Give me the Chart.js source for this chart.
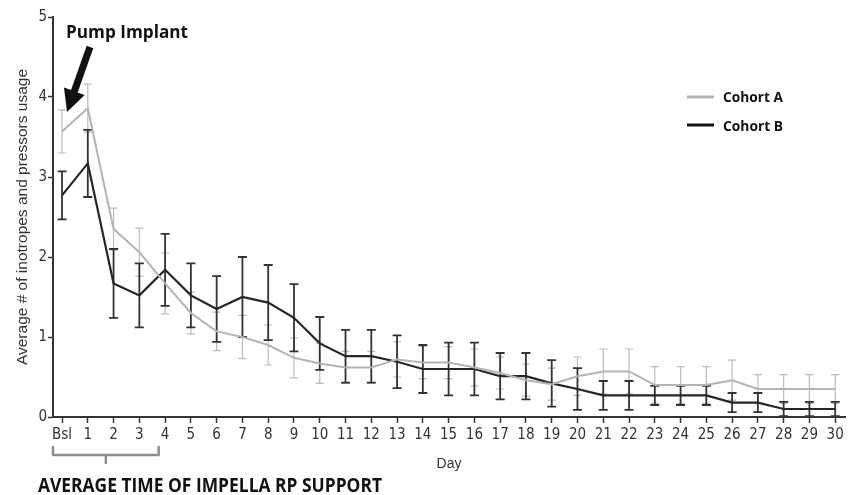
<!DOCTYPE html>
<html>
<head>
<meta charset="utf-8">
<script src="https://cdn.jsdelivr.net/npm/chart.js@4.4.1/dist/chart.umd.min.js"></script>
<style>
  html, body { margin: 0; padding: 0; background: #fff; }
  #wrap { width: 851px; height: 495px; }
</style>
</head>
<body>
<div id="wrap"><canvas id="chart" width="851" height="495"></canvas></div>
<script>
const DAYS = ['Bsl', '1', '2', '3', '4', '5', '6', '7', '8', '9', '10', '11', '12', '13', '14', '15',
    '16', '17', '18', '19', '20', '21', '22', '23', '24', '25', '26', '27', '28', '29', '30'];

const cohortA = [3.57, 3.86, 2.35, 2.06, 1.67, 1.30, 1.07, 1.00, 0.90, 0.74, 0.67, 0.62, 0.62, 0.72, 0.68, 0.68,
    0.62, 0.55, 0.46, 0.41, 0.51, 0.57, 0.57, 0.40, 0.40, 0.40, 0.46, 0.35, 0.35, 0.35, 0.35];
const cohortAErr = [0.27, 0.30, 0.26, 0.30, 0.38, 0.26, 0.24, 0.27, 0.25, 0.25, 0.25, 0.20, 0.20, 0.22, 0.20, 0.20,
    0.23, 0.20, 0.20, 0.20, 0.24, 0.28, 0.28, 0.23, 0.23, 0.23, 0.25, 0.18, 0.18, 0.18, 0.18];

const cohortB = [2.77, 3.17, 1.67, 1.52, 1.84, 1.52, 1.35, 1.50, 1.43, 1.24, 0.92, 0.76, 0.76, 0.69, 0.60, 0.60,
    0.60, 0.51, 0.51, 0.42, 0.35, 0.27, 0.27, 0.27, 0.27, 0.27, 0.18, 0.18, 0.10, 0.10, 0.10];
const cohortBErr = [0.30, 0.42, 0.43, 0.40, 0.45, 0.40, 0.41, 0.50, 0.47, 0.42, 0.33, 0.33, 0.33, 0.33, 0.30, 0.33,
    0.33, 0.29, 0.29, 0.29, 0.26, 0.18, 0.18, 0.12, 0.12, 0.12, 0.12, 0.12, 0.09, 0.09, 0.09];

const Y_TICKS = [0, 1, 2, 3, 4, 5];

const GREY = '#b4b4b4';
const GREY_ERR = '#bcbcbc';
const DARK = '#262626';
const DARK_ERR = '#333';
const AXIS = '#333';

const narrow = "'Liberation Sans Narrow', 'DejaVu Sans Condensed', 'Liberation Sans', Arial, sans-serif";
const arial = "'Liberation Sans', Arial, sans-serif";
const bold = "'Open Sans', 'Liberation Sans', sans-serif";

Chart.defaults.font.family = narrow;
Chart.defaults.color = '#333';

// draw text squeezed to a given width (the figure uses a condensed bold face)
function fitText(ctx, text, x, y, width, font, color) {
    ctx.save();
    ctx.font = font;
    ctx.fillStyle = color || '#111';
    ctx.textBaseline = 'alphabetic';
    ctx.textAlign = 'left';
    const w = ctx.measureText(text).width;
    ctx.translate(x, y);
    ctx.scale(width / w, 1);
    ctx.fillText(text, 0, 0);
    ctx.restore();
}

const errorBars = {
    id: 'errorBars',
    beforeDatasetsDraw(chart) {
        const ctx = chart.ctx;
        const xs = chart.scales.x, ys = chart.scales.y;
        chart.data.datasets.forEach((ds) => {
            ctx.save();
            ctx.strokeStyle = ds.errColor;
            ctx.lineWidth = ds.errWidth;
            ds.data.forEach((p, i) => {
                const e = ds.errors[i];
                const px = xs.getPixelForValue(p.x);
                const top = ys.getPixelForValue(p.y + e);
                const bot = ys.getPixelForValue(Math.max(0, p.y - e));
                const c = ds.capHalf;
                ctx.beginPath();
                ctx.moveTo(px, top); ctx.lineTo(px, bot);
                ctx.moveTo(px - c, top); ctx.lineTo(px + c, top);
                ctx.moveTo(px - c, bot); ctx.lineTo(px + c, bot);
                ctx.stroke();
            });
            ctx.restore();
        });
    }
};

const annotations = {
    id: 'annotations',
    afterDraw(chart) {
        const ctx = chart.ctx;
        const xs = chart.scales.x;

        // Pump Implant label + arrow
        fitText(ctx, 'Pump Implant', 66, 38, 122, 'bold 17px ' + bold, '#111');
        const tail = [90, 47], tip = [67, 112];
        const dx = tip[0] - tail[0], dy = tip[1] - tail[1];
        const len = Math.hypot(dx, dy);
        const ux = dx / len, uy = dy / len, nx = -uy, ny = ux;
        const headLen = 22, headHalf = 11, shaftHalf = 3.5;
        const bx = tip[0] - ux * headLen, by = tip[1] - uy * headLen;
        ctx.save();
        ctx.fillStyle = '#111';
        ctx.beginPath();
        ctx.moveTo(tail[0] + nx * shaftHalf, tail[1] + ny * shaftHalf);
        ctx.lineTo(bx + nx * shaftHalf, by + ny * shaftHalf);
        ctx.lineTo(bx + nx * headHalf, by + ny * headHalf);
        ctx.lineTo(tip[0], tip[1]);
        ctx.lineTo(bx - nx * headHalf, by - ny * headHalf);
        ctx.lineTo(bx - nx * shaftHalf, by - ny * shaftHalf);
        ctx.lineTo(tail[0] - nx * shaftHalf, tail[1] - ny * shaftHalf);
        ctx.closePath();
        ctx.fill();
        ctx.restore();

        // legend
        ctx.save();
        ctx.lineWidth = 3;
        ctx.strokeStyle = GREY;
        ctx.beginPath(); ctx.moveTo(687, 97); ctx.lineTo(714, 97); ctx.stroke();
        ctx.strokeStyle = '#111';
        ctx.beginPath(); ctx.moveTo(687, 125); ctx.lineTo(714, 125); ctx.stroke();
        ctx.restore();
        fitText(ctx, 'Cohort A', 723, 102, 60, 'bold 15px ' + bold, '#111');
        fitText(ctx, 'Cohort B', 723, 131, 60, 'bold 15px ' + bold, '#111');

        // bracket under Bsl..4
        const l = xs.getPixelForValue(-0.35), r = xs.getPixelForValue(3.75);
        const m = (l + r) / 2;
        ctx.save();
        ctx.strokeStyle = '#8c8c8c';
        ctx.lineWidth = 2.5;
        ctx.lineCap = 'round';
        ctx.lineJoin = 'round';
        ctx.beginPath();
        ctx.moveTo(l, 447); ctx.lineTo(l, 455); ctx.lineTo(r, 455); ctx.lineTo(r, 447);
        ctx.moveTo(m, 455); ctx.lineTo(m, 463);
        ctx.stroke();
        ctx.restore();
        fitText(ctx, 'AVERAGE TIME OF IMPELLA RP SUPPORT', 38, 492, 344, 'bold 20px ' + bold, '#111');
    }
};

new Chart(document.getElementById('chart'), {
    type: 'line',
    data: {
        datasets: [
            {
                label: 'Cohort A',
                data: cohortA.map((v, i) => ({ x: i, y: v })),
                errors: cohortAErr,
                errColor: GREY_ERR,
                errWidth: 1.2,
                capHalf: 4,
                borderColor: GREY,
                borderWidth: 2,
                pointRadius: 0,
                tension: 0,
            },
            {
                label: 'Cohort B',
                data: cohortB.map((v, i) => ({ x: i, y: v })),
                errors: cohortBErr,
                errColor: DARK_ERR,
                errWidth: 1.8,
                capHalf: 4.5,
                borderColor: DARK,
                borderWidth: 2.2,
                pointRadius: 0,
                tension: 0,
            },
        ],
    },
    options: {
        responsive: false,
        animation: false,
        layout: { padding: { top: 17, right: 6, left: 0, bottom: 0 } },
        plugins: {
            legend: { display: false },
            tooltip: { enabled: false },
        },
        scales: {
            x: {
                type: 'linear',
                min: -0.35,
                max: 30.38,
                afterBuildTicks: s => { s.ticks = DAYS.map((_, i) => ({ value: i })); },
                afterFit: s => { s.height = 78; },
                border: { display: true, color: AXIS, width: 2 },
                grid: { drawOnChartArea: false, drawTicks: true, tickLength: 6, tickColor: AXIS, tickWidth: 1.5 },
                ticks: {
                    autoSkip: false,
                    maxRotation: 0,
                    padding: 3,
                    color: '#333',
                    font: { size: 15 },
                    callback: v => DAYS[v],
                },
                title: {
                    display: true,
                    text: 'Day',
                    color: '#333',
                    font: { size: 14, family: arial },
                    padding: { top: 0, bottom: 22 },
                },
            },
            y: {
                min: 0,
                max: 5,
                afterBuildTicks: s => { s.ticks = Y_TICKS.map(v => ({ value: v })); },
                afterFit: s => { s.width = 53; },
                border: { display: true, color: AXIS, width: 2 },
                grid: { drawOnChartArea: false, drawTicks: true, tickLength: 5, tickColor: AXIS, tickWidth: 1.5 },
                ticks: {
                    padding: 1,
                    color: '#333',
                    font: { size: 15 },
                },
                title: {
                    display: true,
                    text: 'Average # of inotropes and pressors usage',
                    color: '#333',
                    font: { size: 15.5, family: arial },
                    padding: { top: 13, bottom: 0 },
                },
            },
        },
    },
    plugins: [errorBars, annotations],
});
</script>
</body>
</html>
